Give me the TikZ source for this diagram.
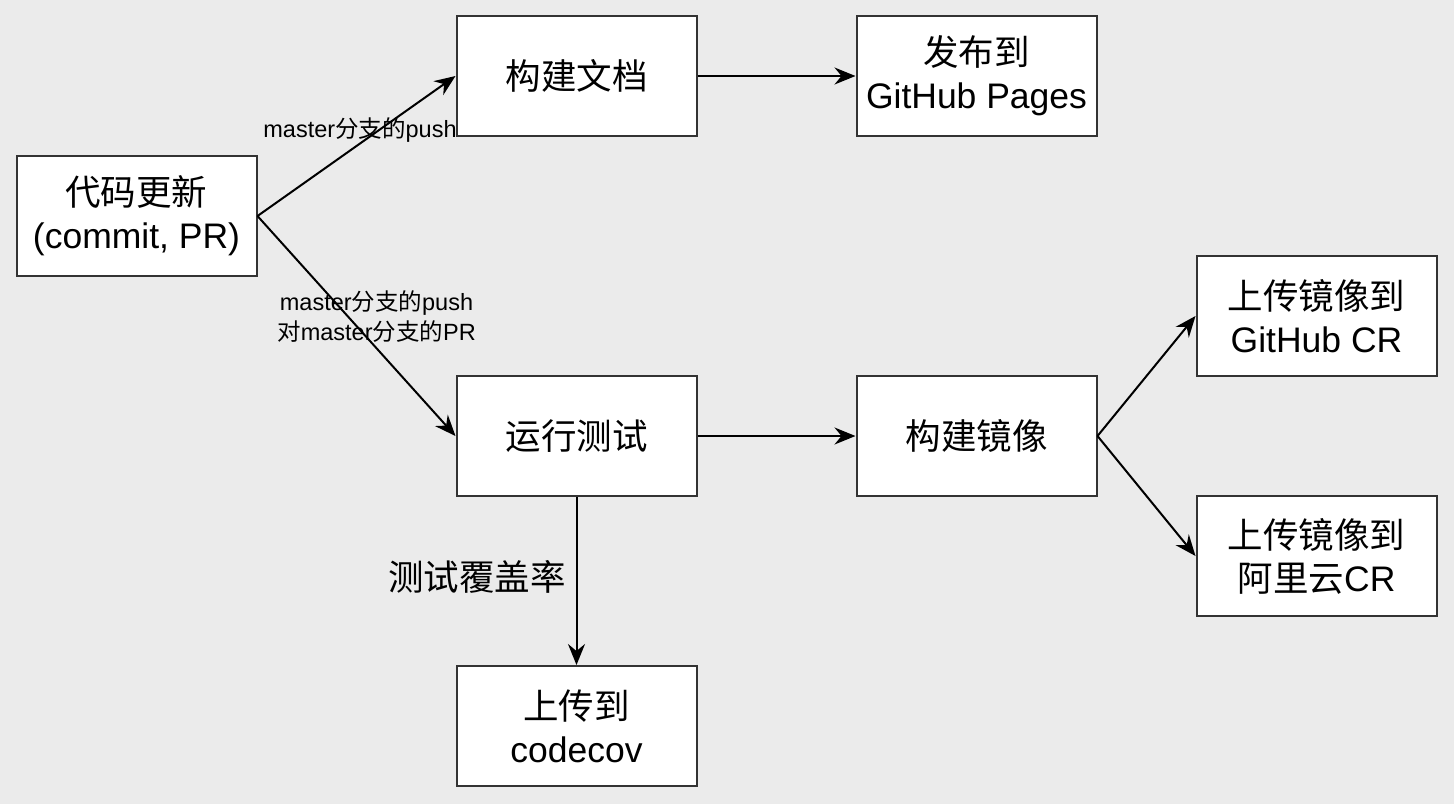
\documentclass[tikz,border=0pt]{standalone}
\usepackage{fontspec}
\setmainfont{Liberation Sans}
\newfontfamily\cjk{Noto Sans CJK SC}
\usetikzlibrary{arrows.meta}
\definecolor{bg}{HTML}{EBEBEB}
\definecolor{edge}{HTML}{333333}
\begin{document}
\begin{tikzpicture}[x=1pt,y=-1pt,
  box/.style={draw=edge, fill=white, line width=2pt, minimum width=240pt, minimum height=120pt, inner sep=0pt, align=center, font=\fontsize{35.5}{43}\selectfont},
  conn/.style={line width=2pt, -{Stealth[length=21pt,width=17pt,inset=7pt]}},
  lbl/.style={font=\fontsize{23.5}{30}\selectfont, align=center, inner sep=0pt},
  biglbl/.style={font=\fontsize{35.5}{43}\selectfont, inner sep=0pt}]
\fill[bg] (0,0) rectangle (1454,804);
\useasboundingbox (0,0) rectangle (1454,804);
\node[box] (src) at (136.5,216) {{\cjk 代码更新}\\(commit, PR)};
\node[box] (doc) at (576.5,76) {{\cjk 构建文档}};
\node[box] (pages) at (976.5,76) {{\cjk 发布到}\\GitHub Pages};
\node[box] (test) at (576.5,436) {{\cjk 运行测试}};
\node[box] (img) at (976.5,436) {{\cjk 构建镜像}};
\node[box] (ghcr) at (1316.5,316) {{\cjk 上传镜像到}\\GitHub CR};
\node[box] (alicr) at (1316.5,556) {{\cjk 上传镜像到}\\{\cjk 阿里云}CR};
\node[box] (cov) at (576.5,726) {{\cjk 上传到}\\codecov};
\draw[conn] (src.east) -- (doc.west);
\draw[conn] (src.east) -- (test.west);
\draw[conn] (doc) -- (pages);
\draw[conn] (test) -- (img);
\draw[conn] (img.east) -- (ghcr.west);
\draw[conn] (img.east) -- (alicr.west);
\draw[conn] (test) -- (cov);
\node[lbl] (l1) at (360,130) {master{\cjk 分支的}push};
\node[lbl] (l2) at (376.5,317) {master{\cjk 分支的}push\\{\cjk 对}master{\cjk 分支的}PR};
\node[biglbl] (l3) at (477,577) {{\cjk 测试覆盖率}};
\end{tikzpicture}
\end{document}
